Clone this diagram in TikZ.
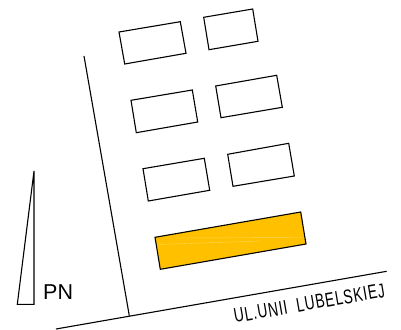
\documentclass[tikz,border=0pt]{standalone}
\usepackage{fontspec}
\setmainfont{Liberation Sans}
\newfontfamily\streetfont[LetterSpace=6]{Liberation Sans}
\definecolor{plotorange}{HTML}{FFC000}
\definecolor{streak}{HTML}{FFD85A}
\tikzset{
  outline/.style={draw=black,line width=1.1pt,line join=miter},
  plot/.style={outline,fill=plotorange},
  road/.style={draw=black,line width=1.1pt},
  streakline/.style={draw=streak,line width=0.4pt}
}
\begin{document}
\begin{tikzpicture}[x=1pt,y=-1pt]
\useasboundingbox (0,0) rectangle (401,329);
\fill[white] (0,0) rectangle (401,329);
% buildings
\draw[outline] (119,32) -- (180.3,21.7) -- (186,53.3) -- (124.7,64) -- cycle;
\draw[outline] (203.7,17.3) -- (252.7,9) -- (258,41.3) -- (209,49.7) -- cycle;
\draw[outline] (131,100.3) -- (192.3,90) -- (197.7,122) -- (136.3,132.7) -- cycle;
\draw[outline] (215.7,86) -- (276.7,75.3) -- (282.3,107.3) -- (221,117.7) -- cycle;
\draw[outline] (143,168.7) -- (204.3,158.3) -- (209.7,190.3) -- (148.3,201) -- cycle;
\draw[outline] (227.7,154.3) -- (288.7,143.3) -- (294.3,176) -- (233,186.3) -- cycle;
% highlighted building
\draw[plot] (155,237.3) -- (300.7,212) -- (306,244) -- (160.3,269.3) -- cycle;
\draw[streakline] (176,238) -- (302,237.5);
\draw[streakline] (158,244.5) -- (260,241);
% plot boundary and road
\coordinate (bt) at (84,56);
\coordinate (bb) at (129.3,315.7);
\coordinate (ra) at (56,329);
\coordinate (rb) at (386.7,271.3);
\draw[road] (bt) -- (bb);
\draw[road] (ra) -- (rb);
% north sign
\draw[outline] (34,171) -- (34,304.3) -- (17.3,304.3) -- cycle;
\node[anchor=base west,inner sep=0pt,font=\fontsize{21.5}{21.5}\selectfont] (pn) at (43,299.5) {PN};
\node[anchor=base west,inner sep=0pt,rotate=9.8,xscale=0.69,font=\fontsize{20}{20}\streetfont] (street) at (235,323) {UL.UNII\ \ LUBELSKIEJ};
\end{tikzpicture}
\end{document}
